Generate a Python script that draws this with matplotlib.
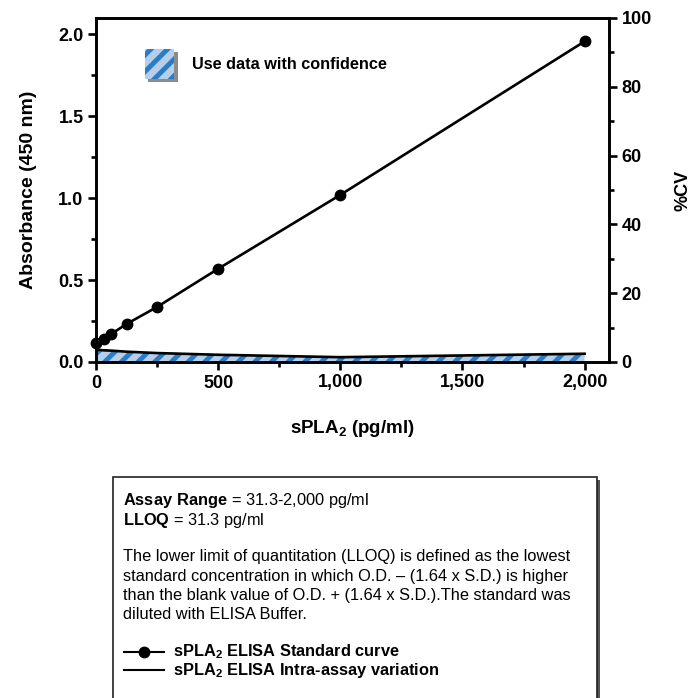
import matplotlib
matplotlib.use("Agg")
import matplotlib.pyplot as plt
from matplotlib.patches import Rectangle
from matplotlib.lines import Line2D
from matplotlib.ticker import FuncFormatter, MultipleLocator

plt.rcParams['font.family'] = ['Liberation Sans', 'DejaVu Sans']
plt.rcParams['mathtext.fontset'] = 'custom'
plt.rcParams['mathtext.rm'] = 'Liberation Sans'
plt.rcParams['mathtext.bf'] = 'Liberation Sans:bold'
plt.rcParams['hatch.linewidth'] = 3.5

# standard curve (absorbance) and intra-assay %CV
conc = [0, 31.3, 62.5, 125, 250, 500, 1000, 2000]
absorbance = [0.116, 0.14, 0.171, 0.232, 0.336, 0.569, 1.02, 1.957]
cv = [3.6, 3.4, 3.3, 3.0, 2.6, 2.1, 1.4, 2.4]

xticks = [0, 500, 1000, 1500, 2000]
yticks = [0.0, 0.5, 1.0, 1.5, 2.0]
cvticks = [0, 20, 40, 60, 80, 100]

fill_col = '#b5cfea'
hatch_col = '#2a7cc4'
lw = 1.9

W, H = 695, 698


def fx(px):
    return px / W


def fy(py):
    return 1 - py / H


fig = plt.figure(figsize=(6.95, 6.98), dpi=100)
ax = fig.add_axes([96 / W, 1 - 362 / H, 513 / W, 344 / H])
ax2 = ax.twinx()

# %CV band on the right axis
ax2.fill_between(conc, 0, cv, facecolor=fill_col, edgecolor=hatch_col,
                 hatch='//', linewidth=0)
ax2.plot(conc, cv, color='black', lw=lw)
ax2.set_ylim(0, 100)

# standard curve on the left axis, drawn on top
ax.set_zorder(ax2.get_zorder() + 1)
ax.patch.set_visible(False)
ax.plot(conc, absorbance, color='black', lw=lw, marker='o', markersize=7.5,
        clip_on=False, zorder=5)
ax.set_xlim(0, 2100)
ax.set_ylim(0, 2.1)

ax.set_xticks(xticks)
ax.xaxis.set_major_formatter(FuncFormatter(lambda v, p: f"{int(v):,}"))
ax.xaxis.set_minor_locator(MultipleLocator(250))
ax.set_yticks(yticks)
ax.yaxis.set_major_formatter(FuncFormatter(lambda v, p: f"{v:.1f}"))
ax.yaxis.set_minor_locator(MultipleLocator(0.25))
ax2.set_yticks(cvticks)
ax2.yaxis.set_minor_locator(MultipleLocator(10))

for a in (ax, ax2):
    for s in a.spines.values():
        s.set_linewidth(lw)
    a.tick_params(which='major', length=6, width=lw, labelsize=13, pad=3)
    a.tick_params(which='minor', length=3.5, width=lw)
    for lab in a.get_xticklabels() + a.get_yticklabels():
        lab.set_fontweight('bold')
ax.tick_params(axis='y', which='both', right=False)
ax.tick_params(axis='x', which='both', top=False)

ax.set_xlabel(r'$\mathbf{sPLA_2}$ (pg/ml)', fontsize=13.5, fontweight='bold',
              labelpad=19)
ax.set_ylabel('Absorbance (450 nm)', fontsize=14, fontweight='bold',
              labelpad=15)
fig.text(fx(683), fy(190), '%CV', fontsize=13, fontweight='bold',
         rotation=90, ha='center', va='center')

# in-plot key: hatched square with shadow
ax.add_patch(Rectangle((0.101, 0.813), 0.058, 0.087, transform=ax.transAxes,
                       facecolor='#8c8c8c', edgecolor='none', zorder=3))
ax.add_patch(Rectangle((0.095, 0.822), 0.058, 0.087, transform=ax.transAxes,
                       facecolor=fill_col, edgecolor=hatch_col, hatch='//',
                       linewidth=0, zorder=4))
ax.text(0.187, 0.865, 'Use data with confidence', transform=ax.transAxes,
        fontsize=11.7, fontweight='bold', va='center', ha='left')

# info box below the chart
fig.patches.append(Rectangle((fx(116), fy(710)), fx(600) - fx(116),
                             fy(480) - fy(710), transform=fig.transFigure,
                             facecolor='#555555', edgecolor='none'))
fig.patches.append(Rectangle((fx(113), fy(707)), fx(597) - fx(113),
                             fy(477) - fy(707), transform=fig.transFigure,
                             facecolor='white', edgecolor='#222222', lw=1.2))

fs = 11.8
fig.text(fx(123), fy(500), r'$\mathbf{Assay\ Range}$ = 31.3-2,000 pg/ml',
         fontsize=fs, va='center')
fig.text(fx(123), fy(520), r'$\mathbf{LLOQ}$ = 31.3 pg/ml', fontsize=fs,
         va='center')
body = ['The lower limit of quantitation (LLOQ) is defined as the lowest',
        'standard concentration in which O.D. \u2013 (1.64 x S.D.) is higher',
        'than the blank value of O.D. + (1.64 x S.D.).The standard was',
        'diluted with ELISA Buffer.']
for i, line in enumerate(body):
    fig.text(fx(123), fy(557 + 19.3 * i), line, fontsize=fs, va='center')

fig.lines.append(Line2D([fx(124), fx(164)], [fy(652), fy(652)],
                        transform=fig.transFigure, color='black', lw=1.5))
fig.lines.append(Line2D([fx(144)], [fy(652)], transform=fig.transFigure,
                        color='black', marker='o', markersize=7.5, lw=0))
fig.lines.append(Line2D([fx(124), fx(164)], [fy(670), fy(670)],
                        transform=fig.transFigure, color='black', lw=1.5))
fig.text(fx(173), fy(652), r'$\mathbf{sPLA_2}$ ELISA Standard curve',
         fontsize=fs, fontweight='bold', va='center')
fig.text(fx(173), fy(670), r'$\mathbf{sPLA_2}$ ELISA Intra-assay variation',
         fontsize=fs, fontweight='bold', va='center')

fig.savefig('out.png', dpi=100)
